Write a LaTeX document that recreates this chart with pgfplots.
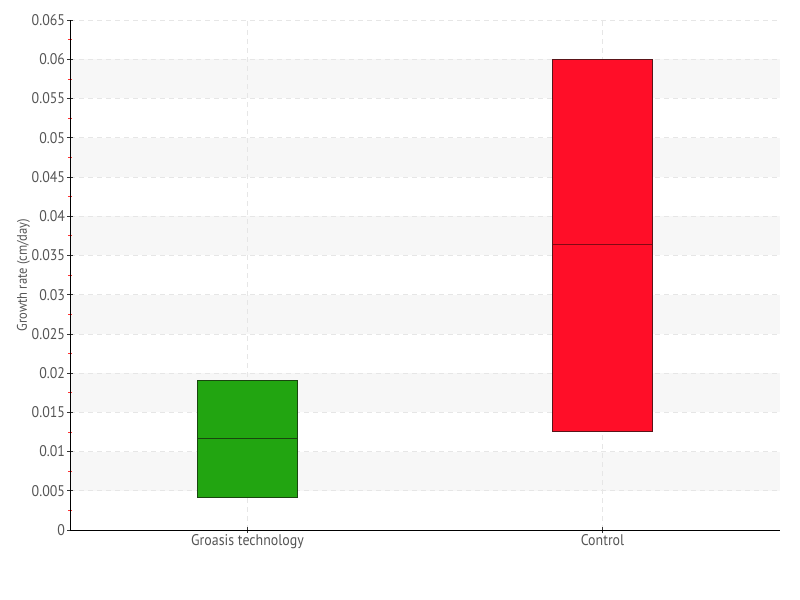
\documentclass[border=0pt]{standalone}
\usepackage{fontspec}
\setmainfont{PT Sans}[FakeStretch=0.9]
\usepackage{pgfplots}
\pgfplotsset{compat=1.18}
\definecolor{gfill}{RGB}{34,165,17}
\definecolor{gline}{RGB}{25,70,15}
\definecolor{rfill}{RGB}{255,14,40}
\definecolor{rline}{RGB}{90,20,25}
\definecolor{rmed}{RGB}{130,10,20}
\definecolor{band}{RGB}{247,247,247}
\definecolor{gridc}{RGB}{230,230,230}
\definecolor{txt}{RGB}{85,85,85}
\begin{document}
\begin{tikzpicture}
\begin{axis}[
  set layers,
  at={(0,0)}, anchor=south west,
  scale only axis, width=710bp, height=510bp,
  xmin=0.5, xmax=2.5, ymin=0, ymax=0.065,
  axis lines*=left,
  axis line style={black, line width=0.8pt},
  xtick={1,2}, xticklabels={Groasis technology, Control},
  ytick={0,0.005,0.01,0.015,0.02,0.025,0.03,0.035,0.04,0.045,0.05,0.055,0.06,0.065},
  minor ytick={0.0025,0.0075,0.0125,0.0175,0.0225,0.0275,0.0325,0.0375,0.0425,0.0475,0.0525,0.0575,0.0625},
  yticklabel style={xshift=1bp, /pgf/number format/.cd, fixed, precision=3, assume math mode=true},
  scaled y ticks=false,
  ticklabel style={font=\fontsize{15.5}{18}\selectfont, text=txt},
  xticklabel style={yshift=2bp},
  tick align=center,
  major tick length=5bp, minor tick length=4bp,
  major tick style={black!80, line width=0.6pt},
  minor tick style={red!80, line width=0.6pt},
  grid=major,
  major grid style={gridc, dash pattern=on 5bp off 4bp, line width=0.6pt},
  ylabel={Growth rate (cm/day)},
  ylabel style={font=\fontsize{14}{16}\selectfont, text=txt, yshift=-5bp},
]
\addplot[draw=none, fill=band, on layer=axis background] coordinates {(0.5,0.005) (2.5,0.005) (2.5,0.01) (0.5,0.01)};
\addplot[draw=none, fill=band, on layer=axis background] coordinates {(0.5,0.015) (2.5,0.015) (2.5,0.02) (0.5,0.02)};
\addplot[draw=none, fill=band, on layer=axis background] coordinates {(0.5,0.025) (2.5,0.025) (2.5,0.03) (0.5,0.03)};
\addplot[draw=none, fill=band, on layer=axis background] coordinates {(0.5,0.035) (2.5,0.035) (2.5,0.04) (0.5,0.04)};
\addplot[draw=none, fill=band, on layer=axis background] coordinates {(0.5,0.045) (2.5,0.045) (2.5,0.05) (0.5,0.05)};
\addplot[draw=none, fill=band, on layer=axis background] coordinates {(0.5,0.055) (2.5,0.055) (2.5,0.06) (0.5,0.06)};
% Groasis technology: min/Q1 0.0042, median 0.0117, Q3/max 0.0191
\addplot[fill=gfill, draw=gline, line width=0.9pt] coordinates {(0.86,0.0042) (1.14,0.0042) (1.14,0.0191) (0.86,0.0191)} -- cycle;
\addplot[draw=gline, line width=0.8pt] coordinates {(0.86,0.0117) (1.14,0.0117)};
% Control: min/Q1 0.0126, median 0.0364, Q3/max 0.0600
\addplot[fill=rfill, draw=rline, line width=0.9pt] coordinates {(1.86,0.0126) (2.14,0.0126) (2.14,0.0600) (1.86,0.0600)} -- cycle;
\addplot[draw=rmed, line width=0.8pt] coordinates {(1.86,0.0364) (2.14,0.0364)};
\end{axis}
\path (-70bp,-70bp) rectangle (730bp,530bp);
\end{tikzpicture}
\end{document}
